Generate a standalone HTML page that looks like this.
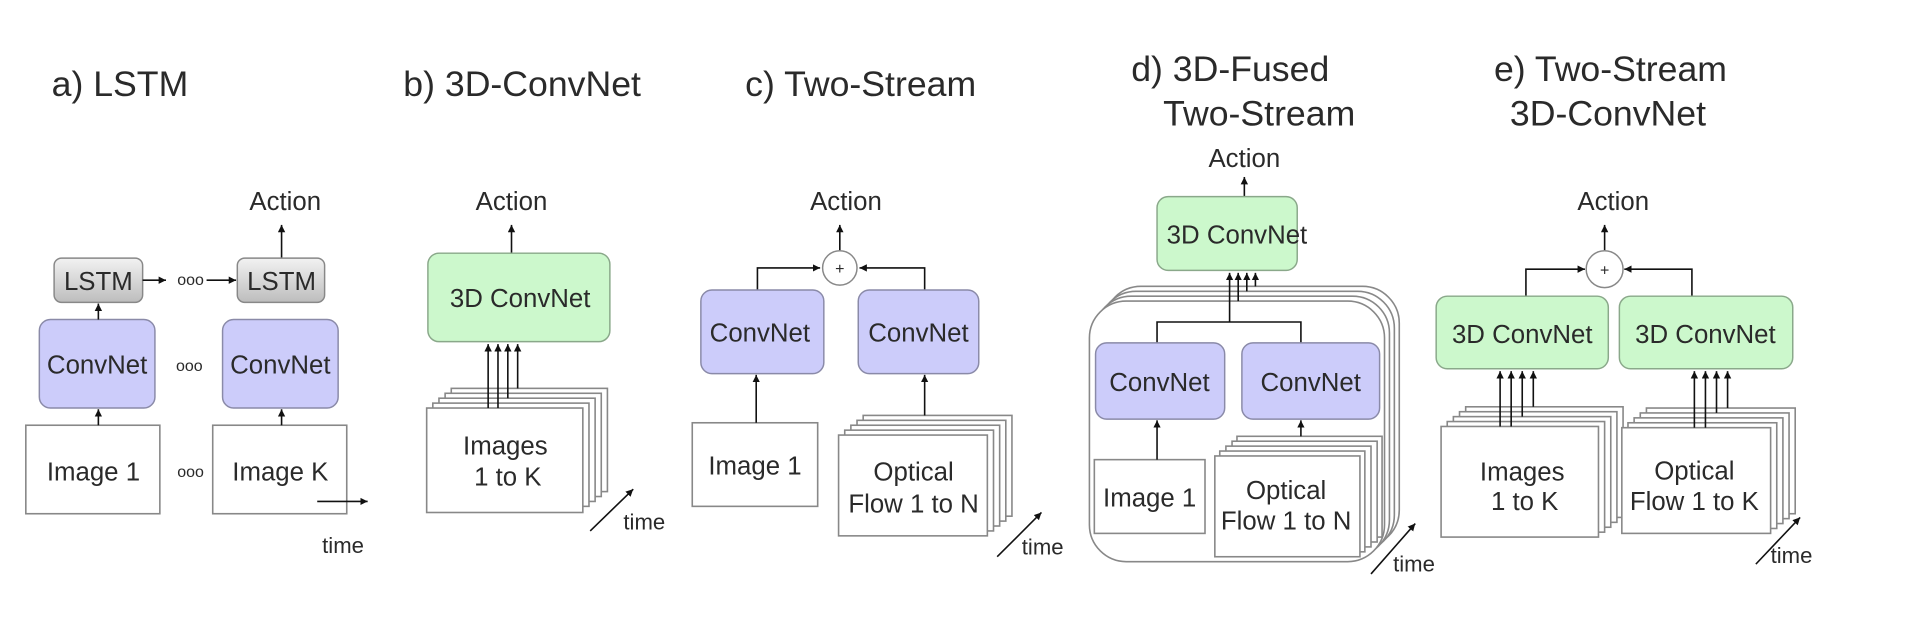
<!DOCTYPE html>
<html><head><meta charset="utf-8"><style>
html,body{margin:0;padding:0;background:#fff;}
svg{display:block;}
text{font-family:"Liberation Sans",sans-serif;fill:#2a2a2a;}
.t{font-size:29px;}
.b{font-size:21px;text-anchor:middle;}
.s{font-size:18px;}
.o{font-size:13px;text-anchor:middle;}
.img{fill:#fff;stroke:#888;stroke-width:1.3;}
.cv{fill:#ccccfa;stroke:#8a8aa8;stroke-width:1.2;}
.gr{fill:#ccf8cc;stroke:#8aa88a;stroke-width:1.2;}
.ls{fill:url(#g);stroke:#888;stroke-width:1.2;}
.ln{stroke:#111;stroke-width:1.3;fill:none;}
</style></head><body>
<svg width="1928" height="644" viewBox="0 0 1568 524" preserveAspectRatio="none" xmlns="http://www.w3.org/2000/svg">
<defs>
<linearGradient id="g" x1="0" y1="0" x2="0" y2="1"><stop offset="0" stop-color="#f2f2f2"/><stop offset="1" stop-color="#bdbdbd"/></linearGradient>
<marker id="a" markerWidth="8" markerHeight="8" refX="6" refY="3" orient="auto" markerUnits="userSpaceOnUse"><path d="M0,0 L6,3 L0,6 z" fill="#111"/></marker>
</defs>

<!-- a) LSTM -->
<text class="t" x="42" y="78">a) LSTM</text>
<text class="b" x="232" y="171">Action</text>
<line class="ln" x1="229" y1="210" x2="229" y2="183" marker-end="url(#a)"/>
<rect class="ls" x="44" y="210" width="72" height="36" rx="6"/>
<rect class="ls" x="193" y="210" width="71" height="36" rx="6"/>
<text class="b" x="80" y="236">LSTM</text>
<text class="b" x="229" y="236">LSTM</text>
<line class="ln" x1="116" y1="228" x2="135" y2="228" marker-end="url(#a)"/>
<text class="o" x="155" y="232">ooo</text>
<line class="ln" x1="168" y1="228" x2="192" y2="228" marker-end="url(#a)"/>
<rect class="cv" x="32" y="260" width="94" height="72" rx="9"/>
<rect class="cv" x="181" y="260" width="94" height="72" rx="9"/>
<text class="b" x="79" y="304">ConvNet</text>
<text class="b" x="228" y="304">ConvNet</text>
<text class="o" x="154" y="302">ooo</text>
<line class="ln" x1="80" y1="260" x2="80" y2="247" marker-end="url(#a)"/>
<rect class="img" x="21" y="346" width="109" height="72"/>
<rect class="img" x="173" y="346" width="109" height="72"/>
<text class="b" x="76" y="391">Image 1</text>
<text class="b" x="228" y="391">Image K</text>
<text class="o" x="155" y="388">ooo</text>
<line class="ln" x1="80" y1="346" x2="80" y2="333" marker-end="url(#a)"/>
<line class="ln" x1="229" y1="346" x2="229" y2="333" marker-end="url(#a)"/>
<line class="ln" x1="258" y1="408" x2="299" y2="408" marker-end="url(#a)"/>
<text class="s" x="262" y="450">time</text>

<!-- b) 3D-ConvNet -->
<text class="t" x="328" y="78">b) 3D-ConvNet</text>
<text class="b" x="416" y="171">Action</text>
<line class="ln" x1="416" y1="206" x2="416" y2="183" marker-end="url(#a)"/>
<rect class="gr" x="348" y="206" width="148" height="72" rx="9"/>
<text class="b" x="423" y="250">3D ConvNet</text>
<rect class="img" x="367" y="316" width="127" height="84"/>
<rect class="img" x="362" y="320" width="127" height="84"/>
<rect class="img" x="357" y="324" width="127" height="84"/>
<rect class="img" x="352" y="328" width="127" height="84"/>
<rect class="img" x="347" y="332" width="127" height="85"/>
<line class="ln" x1="397" y1="332" x2="397" y2="280" marker-end="url(#a)"/>
<line class="ln" x1="405" y1="332" x2="405" y2="280" marker-end="url(#a)"/>
<line class="ln" x1="413" y1="324" x2="413" y2="280" marker-end="url(#a)"/>
<line class="ln" x1="421" y1="316" x2="421" y2="280" marker-end="url(#a)"/>
<text class="b" x="411" y="370">Images</text>
<text class="b" x="413" y="395">1 to K</text>
<line class="ln" x1="480" y1="432" x2="515" y2="398" marker-end="url(#a)"/>
<text class="s" x="507" y="431">time</text>

<!-- c) Two-Stream -->
<text class="t" x="606" y="78">c) Two-Stream</text>
<text class="b" x="688" y="171">Action</text>
<line class="ln" x1="683" y1="204" x2="683" y2="183" marker-end="url(#a)"/>
<circle cx="683" cy="218" r="14" fill="#fff" stroke="#888" stroke-width="1.2"/>
<text class="o" x="683" y="223">+</text>
<polyline class="ln" points="616,236 616,218 667,218" marker-end="url(#a)"/>
<polyline class="ln" points="752,236 752,218 699,218" marker-end="url(#a)"/>
<rect class="cv" x="570" y="236" width="100" height="68" rx="9"/>
<rect class="cv" x="698" y="236" width="98" height="68" rx="9"/>
<text class="b" x="618" y="278">ConvNet</text>
<text class="b" x="747" y="278">ConvNet</text>
<rect class="img" x="563" y="344" width="102" height="68"/>
<text class="b" x="614" y="386">Image 1</text>
<line class="ln" x1="615" y1="344" x2="615" y2="305" marker-end="url(#a)"/>
<rect class="img" x="702" y="338" width="121" height="82"/>
<rect class="img" x="697" y="342" width="121" height="82"/>
<rect class="img" x="692" y="346" width="121" height="82"/>
<rect class="img" x="687" y="350" width="121" height="82"/>
<rect class="img" x="682" y="354" width="121" height="82"/>
<line class="ln" x1="752" y1="338" x2="752" y2="305" marker-end="url(#a)"/>
<text class="b" x="743" y="391">Optical</text>
<text class="b" x="743" y="417">Flow 1 to N</text>
<line class="ln" x1="811" y1="453" x2="847" y2="417" marker-end="url(#a)"/>
<text class="s" x="831" y="451">time</text>

<!-- d) 3D-Fused Two-Stream -->
<text class="t" x="920" y="66">d) 3D-Fused</text>
<text class="t" x="946" y="102">Two-Stream</text>
<text class="b" x="1012" y="136">Action</text>
<line class="ln" x1="1012" y1="160" x2="1012" y2="144" marker-end="url(#a)"/>
<rect class="gr" x="941" y="160" width="114" height="60" rx="9"/>
<text class="b" x="1006" y="198">3D ConvNet</text>
<rect class="img" x="898" y="233" width="240" height="212" rx="30"/>
<rect class="img" x="894" y="237" width="240" height="212" rx="30"/>
<rect class="img" x="890" y="241" width="240" height="212" rx="30"/>
<rect class="img" x="886" y="245" width="240" height="212" rx="30"/>
<line class="ln" x1="1000" y1="262" x2="1000" y2="222" marker-end="url(#a)"/>
<line class="ln" x1="1007" y1="245" x2="1007" y2="222" marker-end="url(#a)"/>
<line class="ln" x1="1014" y1="237" x2="1014" y2="222" marker-end="url(#a)"/>
<line class="ln" x1="1021" y1="233" x2="1021" y2="222" marker-end="url(#a)"/>
<polyline class="ln" points="941,279 941,262 1058,262 1058,279"/>
<rect class="cv" x="891" y="279" width="105" height="62" rx="9"/>
<rect class="cv" x="1010" y="279" width="112" height="62" rx="9"/>
<text class="b" x="943" y="318">ConvNet</text>
<text class="b" x="1066" y="318">ConvNet</text>
<rect class="img" x="890" y="374" width="90" height="60"/>
<text class="b" x="935" y="412">Image 1</text>
<line class="ln" x1="941" y1="374" x2="941" y2="342" marker-end="url(#a)"/>
<rect class="img" x="1006" y="355" width="118" height="82"/>
<rect class="img" x="1002" y="359" width="118" height="82"/>
<rect class="img" x="997" y="363" width="118" height="82"/>
<rect class="img" x="992" y="367" width="118" height="82"/>
<rect class="img" x="988" y="371" width="118" height="82"/>
<line class="ln" x1="1058" y1="355" x2="1058" y2="342" marker-end="url(#a)"/>
<text class="b" x="1046" y="406">Optical</text>
<text class="b" x="1046" y="431">Flow 1 to N</text>
<line class="ln" x1="1115" y1="467" x2="1151" y2="426" marker-end="url(#a)"/>
<text class="s" x="1133" y="465">time</text>

<!-- e) Two-Stream 3D-ConvNet -->
<text class="t" x="1215" y="66">e) Two-Stream</text>
<text class="t" x="1228" y="102">3D-ConvNet</text>
<text class="b" x="1312" y="171">Action</text>
<line class="ln" x1="1305" y1="204" x2="1305" y2="183" marker-end="url(#a)"/>
<circle cx="1305" cy="219" r="15" fill="#fff" stroke="#888" stroke-width="1.2"/>
<text class="o" x="1305" y="224">+</text>
<polyline class="ln" points="1241,241 1241,219 1289,219" marker-end="url(#a)"/>
<polyline class="ln" points="1376,241 1376,219 1321,219" marker-end="url(#a)"/>
<rect class="gr" x="1168" y="241" width="140" height="59" rx="9"/>
<rect class="gr" x="1317" y="241" width="141" height="59" rx="9"/>
<text class="b" x="1238" y="279">3D ConvNet</text>
<text class="b" x="1387" y="279">3D ConvNet</text>
<rect class="img" x="1192" y="331" width="128" height="90"/>
<rect class="img" x="1187" y="335" width="128" height="90"/>
<rect class="img" x="1182" y="339" width="128" height="90"/>
<rect class="img" x="1177" y="343" width="128" height="90"/>
<rect class="img" x="1172" y="347" width="128" height="90"/>
<line class="ln" x1="1220" y1="347" x2="1220" y2="302" marker-end="url(#a)"/>
<line class="ln" x1="1229" y1="347" x2="1229" y2="302" marker-end="url(#a)"/>
<line class="ln" x1="1238" y1="339" x2="1238" y2="302" marker-end="url(#a)"/>
<line class="ln" x1="1247" y1="331" x2="1247" y2="302" marker-end="url(#a)"/>
<text class="b" x="1238" y="391">Images</text>
<text class="b" x="1240" y="415">1 to K</text>
<rect class="img" x="1339" y="332" width="121" height="86"/>
<rect class="img" x="1334" y="336" width="121" height="86"/>
<rect class="img" x="1329" y="340" width="121" height="86"/>
<rect class="img" x="1324" y="344" width="121" height="86"/>
<rect class="img" x="1319" y="348" width="121" height="86"/>
<line class="ln" x1="1378" y1="348" x2="1378" y2="302" marker-end="url(#a)"/>
<line class="ln" x1="1387" y1="348" x2="1387" y2="302" marker-end="url(#a)"/>
<line class="ln" x1="1396" y1="336" x2="1396" y2="302" marker-end="url(#a)"/>
<line class="ln" x1="1405" y1="332" x2="1405" y2="302" marker-end="url(#a)"/>
<text class="b" x="1378" y="390">Optical</text>
<text class="b" x="1378" y="415">Flow 1 to K</text>
<line class="ln" x1="1428" y1="459" x2="1464" y2="421" marker-end="url(#a)"/>
<text class="s" x="1440" y="458">time</text>
</svg>
</body></html>
